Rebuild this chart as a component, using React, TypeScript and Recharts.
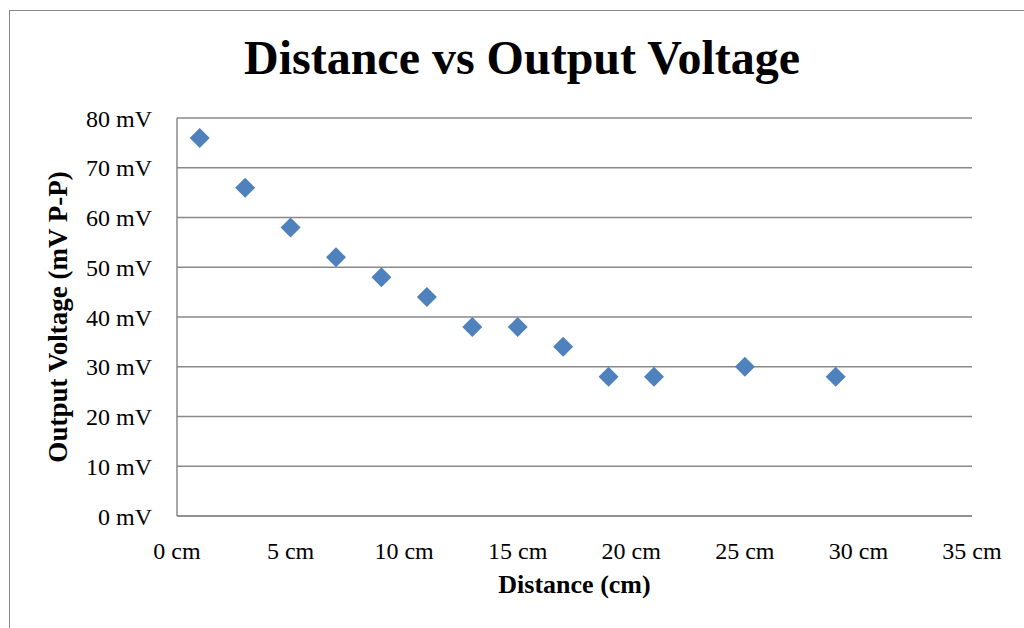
import { ScatterChart, Scatter, XAxis, YAxis, CartesianGrid } from "recharts";

const distanceCm = [1, 3, 5, 7, 9, 11, 13, 15, 17, 19, 21, 25, 29];
const voltageMv = [76, 66, 58, 52, 48, 44, 38, 38, 34, 28, 28, 30, 28];
const xTicks = [0, 5, 10, 15, 20, 25, 30, 35];
const yTicks = [0, 10, 20, 30, 40, 50, 60, 70, 80];

const points = distanceCm.map((d, i) => ({ distance: d, voltage: voltageMv[i] }));

const font = "'Liberation Serif', 'Times New Roman', serif";

const Diamond = (props: any) => {
  const { cx, cy } = props;
  const r = 10;
  return (
    <polygon
      points={`${cx},${cy - r} ${cx + r},${cy} ${cx},${cy + r} ${cx - r},${cy}`}
      fill="#4F81BD"
    />
  );
};

export default function App() {
  return (
    <div style={{ position: "absolute", left: 0, top: 0, width: 1024, height: 628, fontFamily: font }}>
      <div
        style={{
          position: "absolute",
          left: 9,
          top: 10,
          width: 1030,
          height: 630,
          border: "1.5px solid #888",
          boxSizing: "border-box",
        }}
      />
      <div
        style={{
          position: "absolute",
          left: 0,
          width: 1044,
          top: 30,
          textAlign: "center",
          fontSize: 48,
          fontWeight: "bold",
          lineHeight: "56px",
        }}
      >
        Distance vs Output Voltage
      </div>
      <div style={{ position: "absolute", left: 0, top: 0 }}>
        <ScatterChart width={1024} height={628} margin={{ top: 118, right: 52, bottom: 52, left: 77 }}>
          <CartesianGrid horizontal vertical={false} stroke="#898989" strokeWidth={1.5} />
          <XAxis
            type="number"
            dataKey="distance"
            domain={[0, 35]}
            ticks={xTicks}
            tickFormatter={(v) => `${v} cm`}
            tickLine={false}
            axisLine={{ stroke: "#898989", strokeWidth: 1.5 }}
            tick={{ fill: "#000", fontSize: 24, fontFamily: font }}
            tickMargin={20}
            height={60}
            label={{
              value: "Distance (cm)",
              position: "insideBottom",
              offset: -17,
              fill: "#000",
              fontSize: 26,
              fontWeight: "bold",
              fontFamily: font,
            }}
          />
          <YAxis
            type="number"
            dataKey="voltage"
            domain={[0, 80]}
            ticks={yTicks}
            tickFormatter={(v) => `${v} mV`}
            tickLine={false}
            axisLine={{ stroke: "#898989", strokeWidth: 1.5 }}
            tick={{ fill: "#000", fontSize: 24, fontFamily: font }}
            tickMargin={19}
            width={100}
            label={{
              value: "Output Voltage (mV P-P)",
              angle: -90,
              position: "insideLeft",
              offset: -20,
              fill: "#000",
              fontSize: 27,
              fontWeight: "bold",
              fontFamily: font,
              style: { textAnchor: "middle" },
            }}
          />
          <Scatter data={points} shape={<Diamond />} isAnimationActive={false} />
        </ScatterChart>
      </div>
    </div>
  );
}
